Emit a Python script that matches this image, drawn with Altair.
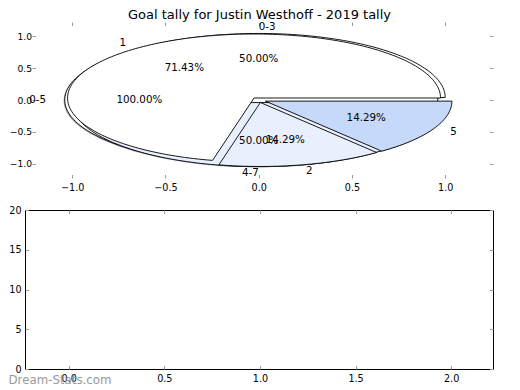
import math
import numpy as np
import pandas as pd
import altair as alt

# ---------------- data ----------------
title_text = "Goal tally for Justin Westhoff - 2019 tally"
watermark = "Dream-Stats.com"

pie_a_labels = ["0-5"]
pie_a_values = [7]
pie_b_labels = ["0-3", "4-7"]
pie_b_values = [1, 1]
pie_c_labels = ["1", "2", "5"]
pie_c_values = [5, 1, 1]
pie_colors = ["#ffffff", "#e9f0fd", "#c6d9fb"]
explode = 0.04

top_x_ticks = [-1.0, -0.5, 0.0, 0.5, 1.0]
top_y_ticks = [-1.0, -0.5, 0.0, 0.5, 1.0]
bot_x_ticks = [0.0, 0.5, 1.0, 1.5, 2.0]
bot_y_ticks = [0, 5, 10, 15, 20]

FONT = "DejaVu Sans"


def shade(hex_color, f=0.3):
    h = hex_color.lstrip("#")
    r, g, b = (int(h[i:i + 2], 16) for i in (0, 2, 4))
    return "#%02x%02x%02x" % (int(r * f), int(g * f), int(b * f))


def build_pie(name, labels, values):
    """Wedge outlines and text positions, computed like matplotlib's pie()."""
    total = float(sum(values))
    poly, texts = [], []
    t1 = 0.0
    for k, (lab, v) in enumerate(zip(labels, values)):
        frac = v / total
        t2 = t1 + frac
        thetam = math.pi * (t1 + t2)
        cx = explode * math.cos(thetam)
        cy = explode * math.sin(thetam)
        full = frac > 0.999999
        n = max(int(frac * 240), 4)
        angles = np.linspace(2 * math.pi * t1, 2 * math.pi * t2, n + 1)
        pts = []
        if not full:
            pts.append((cx, cy))
        pts += [(cx + math.cos(a), cy + math.sin(a)) for a in angles]
        if not full:
            pts.append((cx, cy))
        col = pie_colors[k % len(pie_colors)]
        for i, (px, py) in enumerate(pts):
            poly.append({"key": f"{name}-{k}", "i": i, "x": px, "y": py,
                         "color": col, "shadow": shade(col)})
        xt = cx + 1.1 * math.cos(thetam)
        yt = cy + 1.1 * math.sin(thetam)
        texts.append({"x": xt, "y": yt, "t": lab,
                      "kind": "left" if xt > 0 else "right"})
        texts.append({"x": cx + 0.6 * math.cos(thetam),
                      "y": cy + 0.6 * math.sin(thetam),
                      "t": "%1.2f%%" % (100 * frac), "kind": "center"})
        t1 = t2
    return pd.DataFrame(poly), texts


pa, ta = build_pie("a", pie_a_labels, pie_a_values)
pb, tb = build_pie("b", pie_b_labels, pie_b_values)
pc, tc = build_pie("c", pie_c_labels, pie_c_values)
texts = pd.DataFrame(ta + tb + tc)
shadow_df = pd.concat([pa, pb, pc], ignore_index=True)
shadow_df["x"] = shadow_df["x"] - 0.006
shadow_df["y"] = shadow_df["y"] - 0.012

# ---------------- scales / axes ----------------
W_TOP, H_TOP = 461, 156
W_BOT, H_BOT = 461, 159
BOT_LEFT = -7  # bottom frame starts a little left of the shared column origin
xs_top = alt.Scale(domain=[-1.2156, 1.2563], nice=False, zero=False)
ys_top = alt.Scale(domain=[-1.219, 1.219], nice=False, zero=False)
xs_bot = alt.Scale(domain=[-0.2286, 2.219], range=[BOT_LEFT, W_BOT], nice=False, zero=False)
ys_bot = alt.Scale(domain=[0, 20], nice=False, zero=False)

BASE = dict(grid=False, title=None, labelFont=FONT, labelColor="black",
            labelFlush=False, labelOverlap=False, tickColor="#9a9a9a", tickWidth=1)
TICK = dict(BASE, domain=False, tickSize=3.5)
DOM = dict(BASE, domain=True, domainColor="black", domainWidth=1, ticks=False, labels=False)

ax_tx = alt.Axis(orient="bottom", values=top_x_ticks, format=".1f", labelPadding=4,
                 labelFontSize=9.6, offset=-3.5, **TICK)
ax_ty = alt.Axis(orient="left", values=top_y_ticks, format=".1f", labelPadding=0.5,
                 labelFontSize=9.2, offset=-3.5, **TICK)
ax_tx2 = alt.Axis(orient="top", values=top_x_ticks, labels=False, offset=-3.5, **TICK)
ax_ty2 = alt.Axis(orient="right", values=top_y_ticks, labels=False, offset=-3.5, **TICK)

ax_bx = alt.Axis(orient="bottom", values=bot_x_ticks, format=".1f", labelPadding=4,
                 labelFontSize=9.6, offset=-3.5, **TICK)
ax_by = alt.Axis(orient="left", values=bot_y_ticks, format="d", labelPadding=4,
                 labelFontSize=9.6, offset=-BOT_LEFT - 3.5, **TICK)
ax_bx2 = alt.Axis(orient="top", values=bot_x_ticks, labels=False, offset=-3.5, **TICK)
ax_by2 = alt.Axis(orient="right", values=bot_y_ticks, labels=False, offset=-3.5, **TICK)
dom_b = alt.Axis(orient="bottom", values=bot_x_ticks, offset=0, **DOM)
dom_l = alt.Axis(orient="left", values=bot_y_ticks, offset=-BOT_LEFT, **DOM)
dom_t = alt.Axis(orient="top", values=bot_x_ticks, offset=0, **DOM)
dom_r = alt.Axis(orient="right", values=bot_y_ticks, offset=0, **DOM)

# ---------------- top: pies ----------------
shadow = alt.Chart(shadow_df).mark_line(filled=True, strokeWidth=0).encode(
    x=alt.X("x:Q", scale=xs_top, axis=ax_tx),
    y=alt.Y("y:Q", scale=ys_top, axis=ax_ty),
    order="i:Q",
    detail="key:N",
    fill=alt.Fill("shadow:N", scale=None),
    fillOpacity=alt.value(0.5),
)


def pie_layer(df):
    return alt.Chart(df).mark_line(filled=True).encode(
        x=alt.X("x:Q", scale=xs_top, axis=None),
        y=alt.Y("y:Q", scale=ys_top, axis=None),
        order="i:Q",
        detail="key:N",
        fill=alt.Fill("color:N", scale=None),
        stroke=alt.value("black"),
        strokeWidth=alt.value(0.9),
        fillOpacity=alt.value(1),
    )


def text_layer(kind):
    return alt.Chart(texts).transform_filter(alt.datum.kind == kind).mark_text(
        align=kind, baseline="middle", font=FONT, fontSize=10.3, color="black"
    ).encode(
        x=alt.X("x:Q", scale=xs_top, axis=None),
        y=alt.Y("y:Q", scale=ys_top, axis=None),
        text="t:N",
    )


top_ticks = alt.Chart(alt.Data(values=[])).mark_point(opacity=0).encode(
    x=alt.X("x:Q", scale=xs_top, axis=ax_tx2),
    y=alt.Y("y:Q", scale=ys_top, axis=ax_ty2),
)

top = alt.layer(
    shadow, pie_layer(pa), pie_layer(pb), pie_layer(pc),
    text_layer("left"), text_layer("right"), text_layer("center"), top_ticks,
).resolve_axis(x="independent", y="independent").properties(
    width=W_TOP, height=H_TOP,
    title=alt.TitleParams(text=title_text, font=FONT, fontSize=13, fontWeight="normal",
                          color="black", anchor="middle", frame="group", offset=0, dx=-3),
    view=alt.ViewBackground(stroke=None),
)


# ---------------- bottom: empty axes ----------------
def empty_axes(ax_x, ax_y):
    return alt.Chart(alt.Data(values=[])).mark_point(opacity=0).encode(
        x=alt.X("x:Q", scale=xs_bot, axis=ax_x),
        y=alt.Y("y:Q", scale=ys_bot, axis=ax_y),
    )


wm = alt.Chart(alt.Data(values=[{"t": watermark}])).mark_text(
    align="left", baseline="middle", font=FONT, fontSize=11.8, color="#9a9a9a"
).encode(x=alt.value(BOT_LEFT - 16.5), y=alt.value(169.5), text="t:N")

bottom = alt.layer(
    empty_axes(dom_b, dom_l), empty_axes(dom_t, dom_r),
    empty_axes(ax_bx, ax_by), empty_axes(ax_bx2, ax_by2), wm,
).resolve_axis(x="independent", y="independent").properties(
    width=W_BOT, height=H_BOT,
    view=alt.ViewBackground(stroke=None),
)

chart = alt.vconcat(top, bottom, spacing=13).properties(
    padding=0, background="white"
).configure(font=FONT)

chart.save("out.html", embed_options={"renderer": "svg", "actions": False})
